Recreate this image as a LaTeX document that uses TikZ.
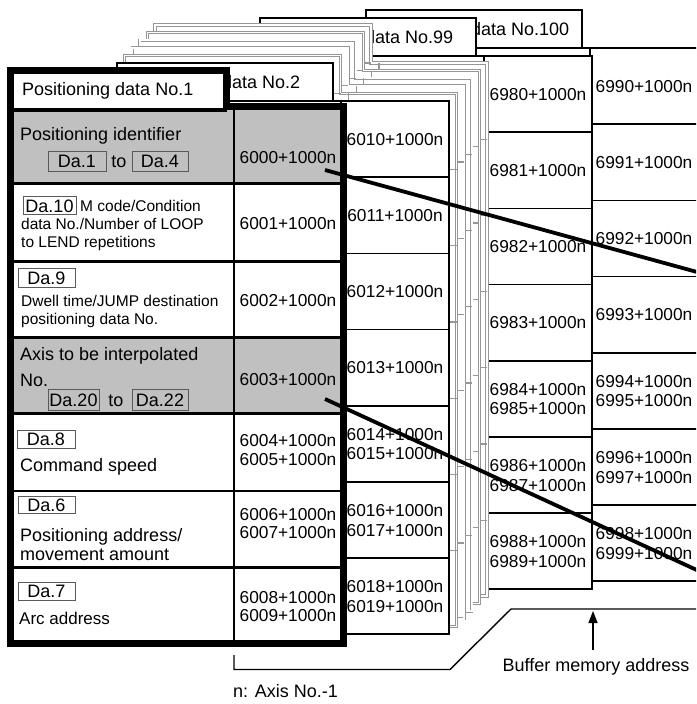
\documentclass[tikz,border=0pt]{standalone}
\usepackage{fontspec}
\setmainfont{Liberation Sans}
\usetikzlibrary{arrows.meta}
\definecolor{cellgray}{RGB}{192,192,192}
\definecolor{layergray}{RGB}{150,150,150}
\definecolor{boxgray}{RGB}{90,90,90}
\tikzset{
  blkout/.style={draw=black, line width=1.6pt, fill=white, line join=miter},
  blkin/.style={draw=black, line width=1.6pt},
  gryout/.style={draw=layergray, line width=0.8pt, double=white, double distance=1.5pt, fill=white, line join=miter},
  gryin/.style={draw=layergray, line width=1.1pt},
  lab/.style={inner sep=0pt, anchor=west, font=\fontsize{18}{21}\selectfont, text height=13pt, text depth=0pt},
  slab/.style={inner sep=0pt, anchor=west, font=\fontsize{15.5}{18}\selectfont, text height=11.2pt, text depth=0pt},
  alab/.style={inner sep=0pt, anchor=west, font=\fontsize{17}{20}\selectfont, text height=12.3pt, text depth=0pt},
  addr/.style={inner sep=0pt, font=\fontsize{17.3}{20}\selectfont, text height=12.4pt, text depth=0pt},
  dabox/.style 2 args={draw=boxgray, line width=0.8pt, inner sep=0pt, minimum width=#1, minimum height=#2, font=\fontsize{18}{21}\selectfont, text height=13pt, text depth=0pt},
  heavyline/.style={line width=3.8pt, draw=black},
  bracketline/.style={line width=1.4pt, draw=black},
  l1in/.style={line width=2.5pt, draw=black},
  l1out/.style={line width=6.5pt, draw=black, line join=miter}
}
\newcommand\drawlayer[4]{%
  \draw[#3] (#1,#2) -- ++(216,0) -- ++(0,38) -- ++(116,0) -- ++(0,533) -- ++(-332,0) -- cycle;
  \draw[#4] (#1,{#2+38}) -- ++(216,0);
  \draw[#4] ({#1+224},{#2+38}) -- ++(0,533);
  \foreach \i in {1,...,6} {\draw[#4] (#1,{#2+38+76.2*\i}) -- ++(332,0);}
}
\newcommand\addrcol[3]{%
  \foreach \i in {0,1,2,3} {%
    \pgfmathtruncatemacro\nn{#3+\i}%
    \node[addr] (a\nn) at (#1,{#2+38+76.2*(\i+0.5)}) {\nn+1000n};
  }
  \foreach \i in {4,5,6} {%
    \pgfmathtruncatemacro\na{#3+2*\i-4}%
    \pgfmathtruncatemacro\nb{#3+2*\i-3}%
    \node[addr] (a\na) at (#1,{#2+38+76.2*(\i+0.5)-9.7}) {\na+1000n};
    \node[addr] (a\nb) at (#1,{#2+38+76.2*(\i+0.5)+9.7}) {\nb+1000n};
  }
}
\begin{document}
\begin{tikzpicture}[x=1pt,y=-1pt]
\useasboundingbox (0,0) rectangle (696,704);
\clip (0,0) rectangle (696,704);
\fill[white] (0,0) rectangle (696,704);

% layer 100 (tab text partly hidden behind layer 99)
\drawlayer{366}{10}{blkout}{blkin}
\node[lab] (t100) at (471,29) {data No.100};
\addrcol{644}{10}{6990}

% layer 99 (tab text partly hidden behind the stacked layers)
\drawlayer{260}{18}{blkout}{blkin}
\node[lab] (t99) at (365,37) {data No.99};
\addrcol{538}{18}{6980}

% intermediate layers
\foreach \k in {5,4,3,2,1} {%
  \pgfmathsetmacro\ox{117+7.6*\k}%
  \pgfmathsetmacro\oy{63-7.6*\k}%
  \drawlayer{\ox}{\oy}{gryout}{gryin}
}

% layer 2 (tab text partly hidden behind layer 1)
\drawlayer{117}{63}{blkout}{blkin}
\node[lab] (t2) at (222,82) {data No.2};
\addrcol{395}{63}{6010}

% layer 1
\fill[white] (10.5,70.5) -- (226.5,70.5) -- (226.5,106.5) -- (343.5,106.5) -- (343.5,643.5) -- (10.5,643.5) -- cycle;
\fill[cellgray] (10.5,110) rectangle (343.5,183.5);
\fill[cellgray] (10.5,337.5) rectangle (343.5,413.5);
\foreach \yy in {183.5,261.5,337.5,413.5,491,567.5} {\draw[l1in] (10.5,\yy) -- (343.5,\yy);}
\draw[l1in] (234,106.5) -- (234,643.5);
\draw[line width=3.5pt] (10.5,110) -- (226.5,110);
\draw[l1out] (10.5,70.5) -- (226.5,70.5) -- (226.5,106.5) -- (343.5,106.5) -- (343.5,643.5) -- (10.5,643.5) -- cycle;

\node[lab] (t1) at (22,89) {Positioning data No.1};

% row 1
\node[lab] (pid) at (20,133.5) {Positioning identifier};
\node[dabox={58pt}{20pt}] (da1) at (77,161) {Da.1};
\node[lab, anchor=center] (to1) at (119,161) {to};
\node[dabox={56pt}{20pt}] (da4) at (160,161) {Da.4};
\node[addr] (a6000) at (288,157) {6000+1000n};
% row 2
\node[dabox={53pt}{18pt}] (da10) at (49.5,205.5) {Da.10};
\node[slab] (mc1) at (80,206) {M code/Condition};
\node[slab] (mc2) at (21,224) {data No./Number of LOOP};
\node[slab] (mc3) at (21,242) {to LEND repetitions};
\node[addr] (a6001) at (288,223) {6001+1000n};
% row 3
\node[dabox={57pt}{19pt}] (da9) at (46.5,277.5) {Da.9};
\node[slab] (dw1) at (21,301) {Dwell time/JUMP destination};
\node[slab] (dw2) at (21,319) {positioning data No.};
\node[addr] (a6002) at (288,300) {6002+1000n};
% row 4
\node[lab] (ax1) at (20,354) {Axis to be interpolated};
\node[lab] (ax2) at (20,380) {No.};
\node[dabox={51pt}{21pt}] (da20) at (73.5,399.5) {Da.20};
\node[lab, anchor=center] (to2) at (116,400) {to};
\node[dabox={56pt}{21pt}] (da22) at (160,399.5) {Da.22};
\node[addr] (a6003) at (288,379) {6003+1000n};
% row 5
\node[dabox={58pt}{18pt}] (da8) at (46,439) {Da.8};
\node[lab] (cs) at (20,465) {Command speed};
\node[addr] (a6004) at (288,440) {6004+1000n};
\node[addr] (a6005) at (288,459) {6005+1000n};
% row 6
\node[dabox={57pt}{17pt}] (da6) at (46.5,505) {Da.6};
\node[lab] (pa1) at (20,535) {Positioning address/};
\node[lab] (pa2) at (20,554) {movement amount};
\node[addr] (a6006) at (288,514) {6006+1000n};
\node[addr] (a6007) at (288,532) {6007+1000n};
% row 7
\node[dabox={57pt}{18pt}] (da7) at (46.5,591) {Da.7};
\node[alab] (arc) at (19,618) {Arc address};
\node[addr] (a6008) at (288,597) {6008+1000n};
\node[addr] (a6009) at (288,615) {6009+1000n};

% diagonal pointer lines
\coordinate (d1s) at (325,170);
\coordinate (d1e) at (700,272.8);
\coordinate (d2s) at (325,399);
\coordinate (d2e) at (700,571.5);
\draw[heavyline] (d1s) -- (d1e);
\draw[heavyline] (d2s) -- (d2e);

% bracket and caption
\coordinate (b1) at (234,655);
\coordinate (b2) at (234,669.5);
\coordinate (b3) at (450,669.5);
\coordinate (b4) at (511,609);
\coordinate (b5) at (700,609);
\draw[bracketline, line join=miter] (b1) -- (b2) -- (b3) -- (b4) -- (b5);
\node[lab, anchor=center] (bma) at (596,665) {Buffer memory address};
\coordinate (arrS) at (593,650);
\coordinate (arrE) at (593,611);
\draw[bracketline, -{Triangle[width=9pt,length=12pt]}] (arrS) -- (arrE);
\node[lab] (nax) at (233,691) {n: Axis No.-1};
\end{tikzpicture}
\end{document}
